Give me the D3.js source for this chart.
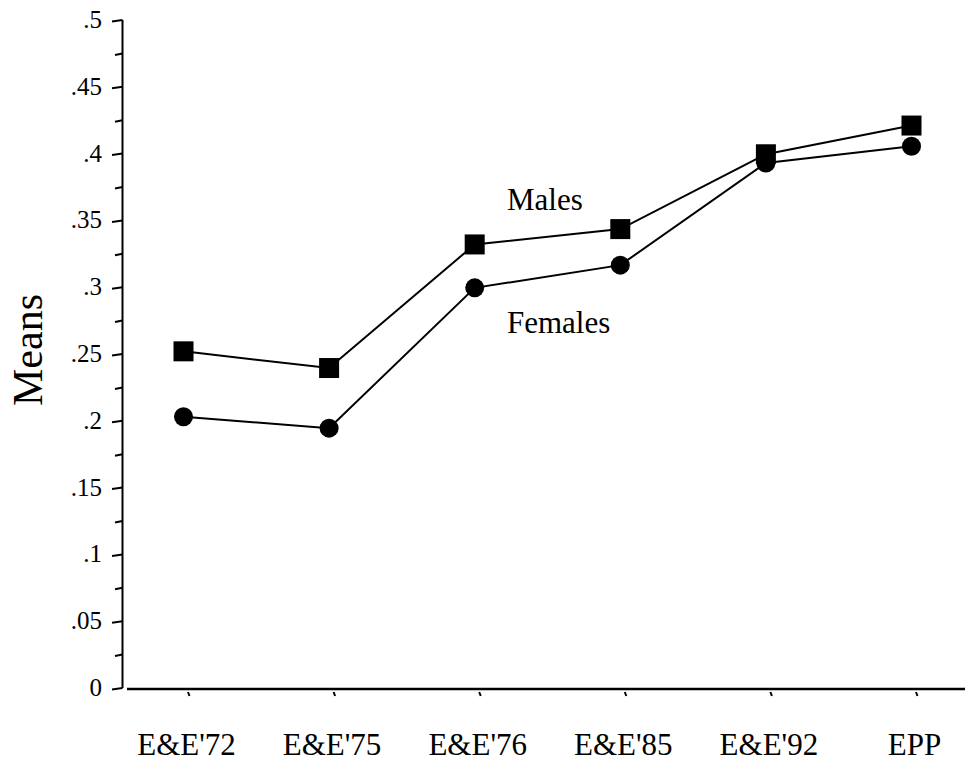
<!DOCTYPE html>
<html>
<head>
<meta charset="utf-8">
<script src="https://cdn.jsdelivr.net/npm/d3@7"></script>
<style>
  body { margin: 0; background: #fff; }
</style>
</head>
<body>
<div id="chart"></div>
<script>
var categories = ["E&E'72", "E&E'75", "E&E'76", "E&E'85", "E&E'92", "EPP"];
var males   = [0.252, 0.2395, 0.332, 0.3435, 0.3995, 0.421];
var females = [0.203, 0.1945, 0.2995, 0.3165, 0.393, 0.4055];
var yMajor = [0, 0.05, 0.1, 0.15, 0.2, 0.25, 0.3, 0.35, 0.4, 0.45, 0.5];
var yLabels = ["0", ".05", ".1", ".15", ".2", ".25", ".3", ".35", ".4", ".45", ".5"];

var FONT = "'Liberation Serif', 'Times New Roman', Times, serif";
var W = 967, H = 764;
var svg = d3.select("#chart").append("svg").attr("width", W).attr("height", H)
  .attr("font-family", FONT);

var x = d3.scalePoint().domain(categories).range([183.5, 911.5]);
var y = d3.scaleLinear().domain([0, 0.5]).range([688, 20]);
var axisX = 122.5;

// y axis line
svg.append("line")
  .attr("x1", axisX).attr("x2", axisX)
  .attr("y1", y(0.5)).attr("y2", y(0))
  .attr("stroke", "#000").attr("stroke-width", 2);

// major ticks (slightly slanted like the original)
yMajor.forEach(function (v, i) {
  svg.append("line")
    .attr("x1", 112).attr("y1", y(v) + 1.5)
    .attr("x2", axisX).attr("y2", y(v))
    .attr("stroke", "#000").attr("stroke-width", 2);
  svg.append("text")
    .attr("x", 102).attr("y", y(v) + 8)
    .attr("text-anchor", "end")
    .attr("font-family", FONT)
    .style("font-size", "25px")
    .text(yLabels[i]);
});
// minor ticks
for (var i = 0; i < yMajor.length - 1; i++) {
  var m = (yMajor[i] + yMajor[i + 1]) / 2;
  svg.append("line")
    .attr("x1", 115).attr("y1", y(m) + 1.5)
    .attr("x2", axisX).attr("y2", y(m))
    .attr("stroke", "#000").attr("stroke-width", 2);
}

// x axis
svg.append("line")
  .attr("x1", 127).attr("x2", 965)
  .attr("y1", 689).attr("y2", 689)
  .attr("stroke", "#000").attr("stroke-width", 2.5);

categories.forEach(function (c) {
  var tx = x(c) + 5.5;
  svg.append("line")
    .attr("x1", tx - 1).attr("y1", 692)
    .attr("x2", tx + 0.5).attr("y2", 696)
    .attr("stroke", "#000").attr("stroke-width", 2);
  svg.append("text")
    .attr("x", x(c) + 3).attr("y", 755)
    .attr("text-anchor", "middle")
    .attr("font-family", FONT)
    .style("font-size", "31px")
    .text(c);
});

// y title
svg.append("text")
  .attr("transform", "translate(42,350) rotate(-90)")
  .attr("text-anchor", "middle")
  .attr("font-family", FONT)
  .style("font-size", "42px")
  .text("Means");

var line = d3.line()
  .x(function (d, i) { return x(categories[i]); })
  .y(function (d) { return y(d); });

svg.append("path").datum(males)
  .attr("d", line).attr("fill", "none")
  .attr("stroke", "#000").attr("stroke-width", 2);
svg.append("path").datum(females)
  .attr("d", line).attr("fill", "none")
  .attr("stroke", "#000").attr("stroke-width", 2);

svg.selectAll("rect.male").data(males).enter().append("rect")
  .attr("class", "male")
  .attr("x", function (d, i) { return x(categories[i]) - 10; })
  .attr("y", function (d) { return y(d) - 10; })
  .attr("width", 20).attr("height", 20)
  .attr("fill", "#000");

svg.selectAll("circle.female").data(females).enter().append("circle")
  .attr("class", "female")
  .attr("cx", function (d, i) { return x(categories[i]); })
  .attr("cy", function (d) { return y(d); })
  .attr("r", 9.5)
  .attr("fill", "#000");

// series labels
svg.append("text").attr("x", 507).attr("y", 210)
  .attr("font-family", FONT)
  .style("font-size", "31px").text("Males");
svg.append("text").attr("x", 507).attr("y", 333)
  .attr("font-family", FONT)
  .style("font-size", "31px").text("Females");
</script>
</body>
</html>
